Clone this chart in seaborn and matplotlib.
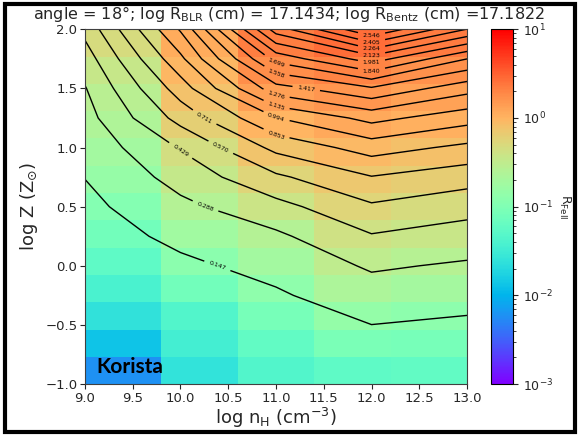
import matplotlib
matplotlib.use('Agg')

import matplotlib.pyplot as plt
import numpy as np
import pandas as pd
import seaborn as sns
from matplotlib.colors import LogNorm
from matplotlib.patches import Rectangle


# grid of the model: log nH (columns) and log Z (rows, bottom to top)
log_nh = [9.0, 10.0, 11.0, 12.0, 13.0]
log_z = [-1.0, -0.75, -0.5, -0.25, 0.0, 0.25, 0.5, 0.75, 1.0, 1.25, 1.5, 1.75, 2.0]

# R_FeII, one list per density, from log Z = -1 up to 2
r_nh9 = [0.0059, 0.013, 0.024, 0.038, 0.055, 0.08, 0.11, 0.15, 0.19, 0.235, 0.28, 0.36, 0.47]
r_nh10 = [0.025, 0.035, 0.045, 0.08, 0.12, 0.18, 0.255, 0.34, 0.44, 0.62, 0.78, 0.96, 1.15]
r_nh11 = [0.045, 0.06, 0.085, 0.13, 0.19, 0.262, 0.383, 0.545, 0.75, 0.99, 1.36, 1.75, 2.19]
r_nh12 = [0.055, 0.09, 0.146, 0.223, 0.306, 0.418, 0.55, 0.705, 0.915, 1.18, 1.54, 2.05, 2.687]
r_nh13 = [0.06, 0.085, 0.125, 0.193, 0.27, 0.366, 0.48, 0.63, 0.82, 1.05, 1.33, 1.70, 2.26]

title = (r'angle = 18$\degree$; log R$_{\rm BLR}$ (cm) = 17.1434; '
         r'log R$_{\rm Bentz}$ (cm) =17.1822')

sns.set_style('ticks')
plt.rcParams['font.family'] = ['DejaVu Sans']
plt.rcParams['mathtext.default'] = 'regular'

rfe = pd.DataFrame(
    np.column_stack([r_nh9, r_nh10, r_nh11, r_nh12, r_nh13]),
    index=log_z, columns=log_nh,
)

fig = plt.figure(figsize=(5.78, 4.37), dpi=100)
rect = [0.147, 0.121, 0.661, 0.812]
ax_map = fig.add_axes(rect)
cax = fig.add_axes([0.8495, 0.121, 0.038, 0.812])

# coloured cells, top row = highest metallicity
sns.heatmap(
    rfe.iloc[::-1],
    ax=ax_map,
    cbar_ax=cax,
    cmap='rainbow',
    norm=LogNorm(vmin=1e-3, vmax=10),
    xticklabels=False,
    yticklabels=False,
)
ax_map.axis('off')

cb = ax_map.collections[0].colorbar
cb.outline.set_linewidth(0.8)
cb.outline.set_edgecolor('black')
cb.ax.tick_params(labelsize=9)
cb.set_label(r'R$_{\rm FeII}$', rotation=270, labelpad=14, fontsize=9)

# contours in physical coordinates on a transparent axes on top
ax = fig.add_axes(rect)
ax.patch.set_alpha(0)
levels = np.linspace(rfe.values.min(), rfe.values.max(), 20)
cs = ax.contour(rfe.columns, rfe.index, rfe.values, levels=levels,
                colors='black', linewidths=1.0)
ax.clabel(cs, fmt='%.3f', fontsize=4.5, inline=True)

ax.set_xlim(9, 13)
ax.set_ylim(-1, 2)
ax.set_xticks(np.arange(9, 13.01, 0.5))
ax.set_yticks(np.arange(-1, 2.01, 0.5))
ax.xaxis.set_major_formatter('{x:.1f}')
ax.yaxis.set_major_formatter('{x:.1f}')
ax.tick_params(labelsize=9.5, pad=2)
for s in ax.spines.values():
    s.set_color('0.25')
ax.set_xlabel(r'log n$_{\rm H}$ (cm$^{-3}$)', fontsize=13, labelpad=1)
ax.set_ylabel(r'log Z (Z$_{\odot}$)', fontsize=13)

ax.text(0.03, 0.03, 'Korista', transform=ax.transAxes, fontsize=15,
        fontweight='bold', family=['Lato', 'DejaVu Sans'], color='black')

fig.text(0.5, 0.968, title, ha='center', va='center', fontsize=11.5)

fig.patches.append(Rectangle((0.0095, 0.0114), 0.9855, 0.9796, transform=fig.transFigure,
                             fill=False, lw=3, ec='black'))

fig.savefig('out.png', dpi=100)
